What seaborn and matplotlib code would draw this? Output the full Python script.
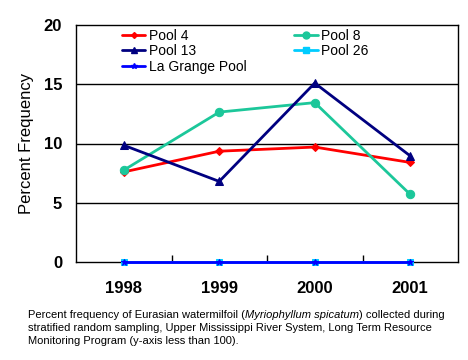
import matplotlib
matplotlib.use("Agg")
import matplotlib.pyplot as plt
import seaborn as sns
import pandas as pd
from matplotlib.lines import Line2D

years = ["1998", "1999", "2000", "2001"]
pool4 = [7.6, 9.35, 9.7, 8.4]
pool8 = [7.75, 12.65, 13.45, 5.7]
pool13 = [9.85, 6.8, 15.1, 8.95]
pool26 = [0, 0, 0, 0]
lagrange = [0, 0, 0, 0]
series_names = ["Pool 4", "Pool 8", "Pool 13", "Pool 26", "La Grange Pool"]
yticks = [0, 5, 10, 15, 20]

sns.set_theme(style="white")
plt.rcParams['font.family'] = ['Liberation Sans', 'DejaVu Sans']
plt.rcParams['text.color'] = 'black'
plt.rcParams['axes.labelcolor'] = 'black'
plt.rcParams['xtick.color'] = 'black'
plt.rcParams['ytick.color'] = 'black'

rows = []
for name, vals in zip(series_names, [pool4, pool8, pool13, pool26, lagrange]):
    for i, (y, v) in enumerate(zip(years, vals)):
        rows.append({"series": name, "x": i, "year": y, "value": v})
df = pd.DataFrame(rows)

styles = {
    "Pool 4": dict(color="#FF0000", marker="D", ms=4),
    "Pool 8": dict(color="#1CC79A", marker="o", ms=6),
    "Pool 13": dict(color="#000080", marker="^", ms=6),
    "Pool 26": dict(color="#00CCFF", marker="s", ms=5),
    "La Grange Pool": dict(color="#0000FF", marker="*", ms=5),
}

fig = plt.figure(figsize=(4.68, 3.6), dpi=100)
ax = fig.add_axes([76/468, 1-262/360, (458-76)/468, (262-25)/360])

for name in series_names:
    st = styles[name]
    sub = df[df.series == name]
    sns.lineplot(data=sub, x="x", y="value", ax=ax, color=st["color"], marker=st["marker"],
                 markersize=st["ms"], markeredgecolor=st["color"], linewidth=2,
                 clip_on=False, zorder=5, legend=False)

ax.set_xlim(-0.5, 3.5)
ax.set_ylim(0, 20)
ax.set_yticks(yticks)
ax.set_yticklabels([str(t) for t in yticks], fontsize=12, fontweight="bold")
ax.set_xticks([0.5, 1.5, 2.5])
ax.set_xticklabels([])
ax.tick_params(axis="x", direction="in", length=5, width=1, color="black", bottom=True)
ax.tick_params(axis="y", length=0, pad=10)
for i, y in enumerate(years):
    ax.text(i, -0.08, y, transform=ax.get_xaxis_transform(), ha="center", va="top",
            fontsize=12, fontweight="bold")
for g in [5, 10, 15]:
    ax.axhline(g, color="black", linewidth=1, zorder=1)
for s in ax.spines.values():
    s.set_color("black")
    s.set_linewidth(1)
ax.set_xlabel("")
ax.set_ylabel("Percent Frequency", fontsize=12, labelpad=7)

order = ["Pool 4", "Pool 13", "La Grange Pool", "Pool 8", "Pool 26"]
handles = [Line2D([], [], color=styles[n]["color"], marker=styles[n]["marker"],
                  markersize=styles[n]["ms"] - 1, linewidth=2, markeredgecolor=styles[n]["color"])
           for n in order]
ax.legend(handles, order, ncol=2, loc="upper left", bbox_to_anchor=(0.12, 0.985),
          frameon=False, fontsize=10, handlelength=1.7, handletextpad=0.25,
          columnspacing=3.4, borderpad=0, borderaxespad=0, labelspacing=0.12)

r = fig.canvas.get_renderer()
y1 = 1 - 315.5/360
a = fig.text(28/468, y1, "Percent frequency of Eurasian watermilfoil (", fontsize=8, va="center", ha="left")
bb = a.get_window_extent(renderer=r)
b = fig.text(bb.x1/468, y1, "Myriophyllum spicatum", fontsize=8, style="italic", va="center", ha="left")
bb2 = b.get_window_extent(renderer=r)
fig.text(bb2.x1/468, y1, ") collected during", fontsize=8, va="center", ha="left")
fig.text(28/468, 1-328/360, "stratified random sampling, Upper Mississippi River System, Long Term Resource",
         fontsize=8, va="center", ha="left")
fig.text(28/468, 1-340.5/360, "Monitoring Program (y-axis less than 100).", fontsize=8, va="center", ha="left")

fig.savefig("out.png", dpi=100)
